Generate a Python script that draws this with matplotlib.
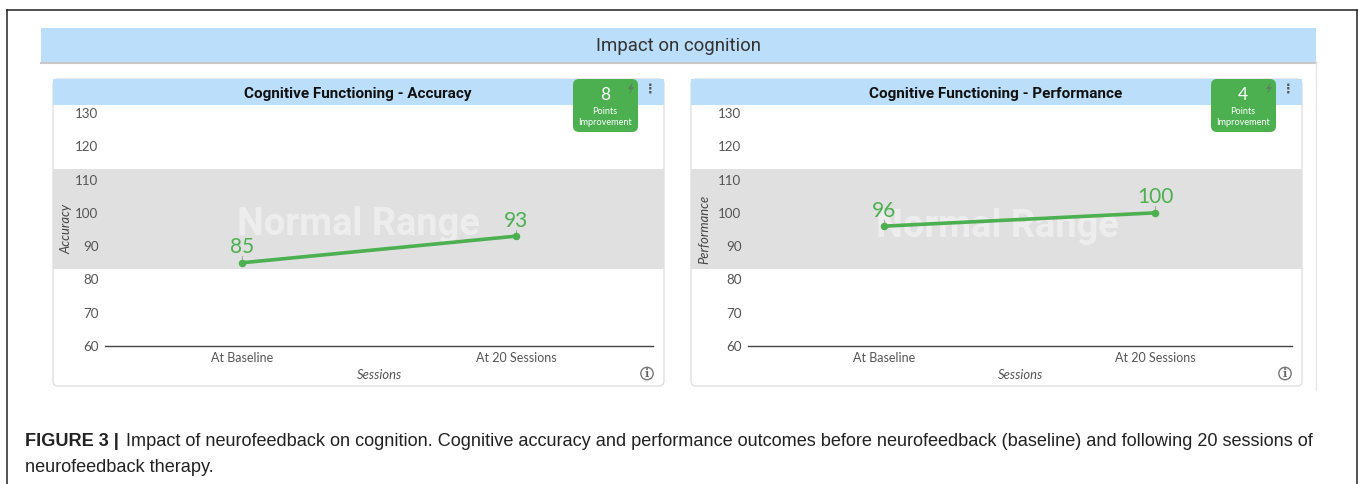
import matplotlib
matplotlib.use("Agg")
import matplotlib.pyplot as plt
from matplotlib.patches import FancyBboxPatch, Rectangle, Circle, Polygon

W, H = 1358, 484
BLUE = "#BBDEFB"
GREEN = "#4CAF50"
GRAY = "#555555"

sessions = ["At Baseline", "At 20 Sessions"]
accuracy = [85, 93]
performance = [96, 100]
y_ticks = [60, 70, 80, 90, 100, 110, 120, 130]
normal_range = [83.1, 113.2]
accuracy_gain = 8
performance_gain = 4

caption_bold = "FIGURE 3 | "
caption_1 = ("Impact of neurofeedback on cognition. Cognitive accuracy and performance "
             "outcomes before neurofeedback (baseline) and following 20 sessions of")
caption_2 = "neurofeedback therapy."

plt.rcParams["font.family"] = ["Lato", "DejaVu Sans"]
fig = plt.figure(figsize=(W / 100, H / 100), dpi=100)

# page furniture is drawn in pixel coords
bg = fig.add_axes([0, 0, 1, 1], zorder=0)
bg.set_xlim(0, W)
bg.set_ylim(H, 0)
bg.axis("off")


def pix_axes(x0, x1, y0, y1, z):
    return fig.add_axes([x0 / W, 1 - y1 / H, (x1 - x0) / W, (y1 - y0) / H], zorder=z)


# outer frame
bg.plot([7, 7], [H, 10], color="#222222", lw=1.1)
bg.plot([7, 1357], [10, 10], color="#222222", lw=1.1)
bg.plot([1357, 1357], [10, H], color="#222222", lw=1.1)

# section header
bg.add_patch(Rectangle((41, 28), 1275, 34, fc=BLUE, ec="none"))
bg.plot([41, 1316], [62.5, 62.5], color="#C8C8C8", lw=1.5)
bg.plot([1316, 1316], [63, 390], color="#E6E6E6", lw=1)
bg.text(678, 46, "Impact on cognition", fontsize=13.4, color="#333333",
        family=["Roboto", "DejaVu Sans"], ha="center", va="center")


def draw_panel(x0, x1, line_x0, line_x1, pts_x, title, ylab, values, gain, wm_x, wm_val, ylab_x):
    # card + header
    bg.add_patch(FancyBboxPatch((x0, 79), x1 - x0, 307, boxstyle="round,pad=0,rounding_size=5",
                                fc="white", ec="#DDDDDD", lw=0.9))
    bg.add_patch(Rectangle((x0, 79), x1 - x0, 26, fc=BLUE, ec="none"))
    bg.text((x0 + x1) / 2 - 0.5, 94, title, fontsize=11, fontweight="bold", color="#111111",
            family=["Roboto", "DejaVu Sans"], ha="center", va="center")

    # badge
    bx = x1 - 91
    bg.add_patch(FancyBboxPatch((bx, 79), 65, 53, boxstyle="round,pad=0,rounding_size=6",
                                fc=GREEN, ec="none", zorder=5))
    bg.text(bx + 32, 95, str(gain), fontsize=12.5, color="white", ha="center", va="center", zorder=6)
    bg.text(bx + 32, 111.5, "Points", fontsize=6.6, color="white", ha="center", va="center", zorder=6)
    bg.text(bx + 32, 122.5, "Improvement", fontsize=6.6, color="white", ha="center", va="center", zorder=6)
    # lightning icon
    cx, cy = bx + 58, 88
    bolt = [(cx + 2, cy - 6), (cx - 3, cy + 1), (cx - 0.3, cy + 1), (cx - 2, cy + 6),
            (cx + 3, cy - 1), (cx + 0.3, cy - 1)]
    bg.add_patch(Polygon(bolt, closed=True, fc="#5f7f5f", ec="none", zorder=6))
    bg.text(x1 - 14, 89, "\u22ee", fontsize=9, fontweight="bold", color="#555555", family="DejaVu Sans",
            ha="center", va="center", zorder=6)

    # info icon
    bg.add_patch(Circle((x1 - 17, 373.5), 6.2, fc="none", ec="#777777", lw=1))
    bg.text(x1 - 17, 373.5, "i", fontsize=8, fontweight="bold", color="#666666",
            family="DejaVu Serif", ha="center", va="center")

    # chart
    ax = pix_axes(line_x0, line_x1, 113, 346, 2)
    ax.patch.set_alpha(0)
    step = pts_x[1] - pts_x[0]
    ax.set_xlim((line_x0 - pts_x[0]) / step, (line_x1 - pts_x[0]) / step)
    ax.set_ylim(60, 130)
    for s in ["top", "left", "right"]:
        ax.spines[s].set_visible(False)
    ax.spines["bottom"].set_color("#444444")
    ax.spines["bottom"].set_linewidth(1)
    ax.set_yticks(y_ticks)
    ax.set_xticks([0, 1])
    ax.set_xticklabels(sessions)
    ax.tick_params(axis="y", length=0, pad=4.6, labelsize=9.6, labelcolor=GRAY)
    ax.tick_params(axis="x", length=0, pad=4, labelsize=9, labelcolor=GRAY)

    span = line_x1 - line_x0
    ax.axhspan(normal_range[0], normal_range[1], xmin=(x0 - line_x0) / span, xmax=(x1 - line_x0) / span,
               fc="#E0E0E0", ec="none", clip_on=False, zorder=0)
    bg_x = (wm_x - pts_x[0]) / step
    ax.text(bg_x, wm_val, "Normal Range", fontsize=27.4, fontweight="bold", color="white", alpha=0.45,
            family=["Roboto", "DejaVu Sans"], ha="center", va="center", zorder=1)

    xs = list(range(len(values)))
    ax.plot(xs, values, color=GREEN, lw=2.6, marker="o", ms=4.4, zorder=3, clip_on=False)
    for i, v in enumerate(values):
        ax.plot([i, i], [v, v + 2], color="#999999", lw=0.6, zorder=2)
        ax.annotate(str(v), (i, v), xytext=(0, 4), textcoords="offset points", ha="center", va="bottom",
                    fontsize=15, color=GREEN, zorder=4)

    bg.text((line_x0 + line_x1) / 2 + 0.5, 375, "Sessions", fontsize=9.4, style="italic", color=GRAY,
            ha="center", va="center")
    ax.text(ylab_x, 229, ylab, fontsize=9.4, style="italic", color="#444444", rotation=90,
            ha="center", va="center", transform=bg.transData, zorder=5)


draw_panel(53, 664, 105, 653, [242, 516], "Cognitive Functioning - Accuracy", "Accuracy",
           accuracy, accuracy_gain, 358, 96.5, 66)
draw_panel(691, 1302, 748, 1292, [884, 1155], "Cognitive Functioning - Performance", "Performance",
           performance, performance_gain, 997, 96, 704)

# caption
cap = dict(fontsize=13.09, color="#222222", family=["Liberation Sans", "DejaVu Sans"], va="center")
t = bg.text(25, 441.5, caption_bold, fontweight="bold", **cap)
r = fig.canvas.get_renderer()
t_end = t.get_window_extent(r).x1
bg.text(t_end + 2, 441.5, caption_1, **cap)
bg.text(25, 467.5, caption_2, **cap)

fig.savefig("out.png", dpi=100)
